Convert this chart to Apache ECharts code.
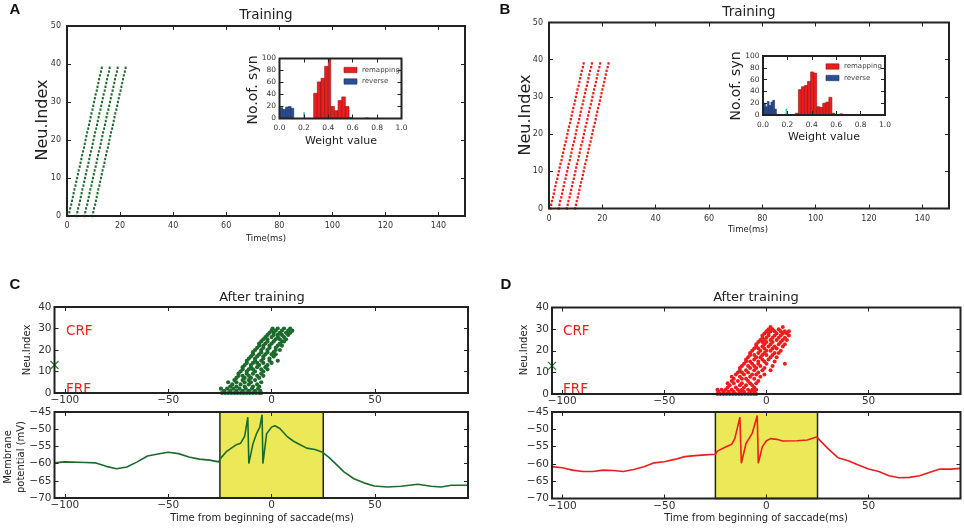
<!DOCTYPE html>
<html>
<head>
<meta charset="utf-8">
<script src="https://cdn.jsdelivr.net/npm/echarts@6/dist/echarts.min.js"></script>
<style>
  html, body { margin: 0; padding: 0; background: #fff; }
  #chart { width: 964px; height: 528px; }
</style>
</head>
<body>
<div id="chart"></div>
<script>
// ---- data ----

// training raster (A, B): four volleys, neuron k fires delay[k] after volley onset
const neuronIdx = [0,1,2,3,4,5,6,7,8,9,10,11,12,13,14,15,16,17,18,19,20,21,22,23,24,25,26,27,28,29,30,31,32,33,34,35,36,37,38,39];
const neuronDelay = [0,0.3,0.6,1,1.3,1.6,1.9,2.2,2.6,2.9,3.2,3.5,3.8,4.2,4.5,4.8,5.1,5.4,5.8,6.1,6.4,6.7,7,7.4,7.7,8,8.3,8.6,9,9.3,9.6,9.9,10.2,10.6,10.9,11.2,11.5,11.8,12.2,12.5];
const volleyOnsetA = [0.6, 3.6, 6.6, 9.6];
const volleyOnsetB = [0.5, 3.6, 6.7, 9.8];

// weight histograms (insets): bin left edge, bin right edge, count
const reverseA   = [[0.005,0.027,18],[0.027,0.05,15],[0.05,0.072,19],[0.072,0.095,20],[0.095,0.117,17]];
const remapA     = [[0.28,0.31,42],[0.31,0.34,61],[0.34,0.37,67],[0.37,0.40,87],[0.40,0.42,100],[0.42,0.45,20],[0.45,0.48,13],[0.48,0.51,30],[0.51,0.54,36],[0.54,0.57,20],[0.57,0.60,1.5],[0.70,0.73,1]];
const otherA     = [[0.198,0.206,10]];
const reverseB   = [[0.005,0.02,20],[0.02,0.035,14],[0.035,0.05,23],[0.05,0.065,16],[0.065,0.08,22],[0.08,0.095,25],[0.095,0.11,10]];
const remapB     = [[0.265,0.29,3],[0.29,0.315,43],[0.315,0.34,48],[0.34,0.365,50],[0.365,0.39,57],[0.39,0.415,73],[0.415,0.44,71],[0.44,0.465,14],[0.465,0.49,13],[0.49,0.515,20],[0.515,0.54,22],[0.54,0.565,30],[0.565,0.59,3],[0.63,0.655,2]];
const otherB     = [[0.188,0.196,10]];

// after training raster (C, D): spike times (ms) per neuron index (row)
const spikeRowsC = [
  [-24,-22.5,-21,-19.5,-18,-16.5,-15,-13.5,-12,-10.5,-9,-7.5,-6,-5],
  [-23,-20,-17,-14,-11,-8,-5.5],
  [-24.5,-21.5,-18.5,-15.5,-12.5,-9.5,-6.5],
  [-20,-17,-13,-9,-6],
  [-19,-15,-11,-7],
  [-21,-17,-13,-10,-5],
  [-18,-14,-11,-8],
  [-17,-13,-10,-6],
  [-16,-14,-11,-7,-4],
  [-16,-12,-9,-5],
  [-15,-12,-8,-4],
  [-14,-11,-9,-5,-2],
  [-14,-10,-7,-3],
  [-13,-10,-6,-2],
  [-12,-9,-7,-4,0],
  [-12,-8,-5,-1,3],
  [-11,-8,-4,-1],
  [-10,-7,-4,1],
  [-9,-6,-3,0,2],
  [-9,-5,-2,1],
  [-8,-5,-2,2,4],
  [-7,-4,-1,2],
  [-6,-4,-1,3,5],
  [-6,-3,0,4],
  [-5,-2,1,5,6],
  [-4,-2,2,4,7],
  [-3,0,3,6],
  [-2,1,3,5,8],
  [-1,1,4,7,9],
  [0,2,5,8,10],
  [0.5,3,6,9]
];
const spikeRowsD = [
  [-24,-22.5,-21,-19.5,-18,-16.5,-15,-13.5,-12,-10.5,-9,-7.5,-6,-5],
  [-23.5,-21,-18.5,-16,-13,-11,-8,-6],
  [-24,-22,-20,-17,-14,-12,-9,-7,-5],
  [-19,-15,-11,-6],
  [-18,-13,-10,-7],
  [-19,-16,-12,-8,-5],
  [-17,-14,-9,-4],
  [-16,-12,-10,-6],
  [-17,-13,-8,-3],
  [-15,-11,-7,-5,-1],
  [-14,-12,-9,-4],
  [-13,-10,-6,-2,2],
  [-13,-8,-5,-1],
  [-12,-9,-6,-3,3],
  [-11,-7,-4,0,9],
  [-10,-8,-4,-1,4],
  [-10,-6,-2,1],
  [-9,-5,-3,2,5],
  [-8,-6,-2,0,3],
  [-8,-4,-1,4,6],
  [-7,-3,0,2,7],
  [-6,-4,-1,3,5],
  [-5,-2,1,4,8],
  [-5,-1,2,6,9],
  [-4,-2,0,3,7],
  [-3,-1,2,5,8,10],
  [-2,0,3,6,9],
  [-2,1,4,7,11],
  [-1,1,5,8,10],
  [0,2,4,7,9,11],
  [1,3,6],
  [2,8]
];
const probeC = [[-105, 13]];
const probeD = [[-105, 13]];

// membrane potential traces
const memTimeC = [-105,-100,-90,-85,-80,-75,-70,-65,-60,-55,-50,-45,-40,-35,-30,-25.5,-25,-22,-20,-17,-15,-13,-11.5,-11,-9,-7.3,-5.7,-4.6,-4.2,-2.4,0,1.6,4,7.3,10.6,13.8,17,21,24.4,27.6,30.9,35,39.8,44.7,49.6,56,62.6,70.7,77.2,82,87,95];
const memVoltC = [-59.8,-59.5,-59.7,-59.8,-60.8,-61.5,-61,-59.5,-57.8,-57.2,-56.7,-57.1,-58.1,-58.7,-59,-59.5,-58.7,-56.6,-55.7,-54.5,-54.1,-52,-46.5,-60,-54.2,-51.3,-49.4,-45.8,-60,-51.3,-49.4,-49,-49.8,-52,-53.5,-54.5,-55.5,-55.9,-56.6,-58.1,-60,-62.4,-64.4,-65.6,-66.5,-66.8,-66.6,-66,-66.6,-66.8,-66.3,-66.3];
const memTimeD = [-105,-100,-95,-90,-85,-80,-75,-70,-65,-60,-55,-50,-45,-40,-35,-30,-25,-24,-20,-17,-15.5,-13,-12.3,-10,-7,-4.5,-4,-2,0,2,5,8,15,20,24.5,30,35,40,45,50,55,60,65,70,75,80,85,90,95];
const memVoltD = [-60.8,-61.1,-61.8,-62.2,-62.2,-61.8,-61.9,-62.2,-61.6,-60.8,-59.7,-59.4,-58.7,-57.9,-57.6,-57.4,-57.2,-56.3,-55.1,-54.3,-52.7,-46.5,-59.8,-54.1,-51.2,-46,-59.8,-55,-53.3,-52.7,-52.9,-53.4,-53.3,-53.1,-52.2,-55.5,-58.2,-59.1,-60.3,-61.5,-62.2,-63.4,-64,-63.9,-63.4,-62.4,-61.5,-61.5,-61.3];

// tick labels
const ticksTrainX = [0,20,40,60,80,100,120,140];
const ticksTrainY = [0,10,20,30,40,50];
const ticksWeightX = [0,0.2,0.4,0.6,0.8,1.0];
const ticksWeightY = [0,20,40,60,80,100];
const ticksSacX = [-100,-50,0,50];
const ticksSacY = [0,10,20,30,40];
const ticksMemY = [-70,-65,-60,-55,-50,-45];

// ---- helpers ----
const FONT = 'DejaVu Sans';
const INK = '#222';
const GREEN = '#1d6b2c';
const RED = '#ee1d1d';
const BLUE = '#2b4f95';
const CYAN = '#22c4c4';
const minus = v => String(v).replace('-', '\u2212');

const grid = [
  { left: 67, top: 26, width: 398, height: 190 },       // A main
  { left: 279.5, top: 58.5, width: 122, height: 60 },   // A inset
  { left: 549, top: 22.5, width: 400, height: 186 },    // B main
  { left: 763, top: 56, width: 122, height: 59 },       // B inset
  { left: 54.5, top: 307, width: 413.5, height: 86 },   // C raster
  { left: 54.5, top: 412, width: 413.5, height: 86 },   // C membrane
  { left: 552, top: 307.5, width: 408.5, height: 86.5 },// D raster
  { left: 552, top: 412, width: 408.5, height: 86.5 }   // D membrane
].map(g => Object.assign(g, { show: true, borderColor: INK, borderWidth: 2, z: 10 }));

const xAxis = [];
const yAxis = [];
function axesFor(gi, xr, yr, xt, yt, fs, fmtX, fmtY, mX, mY) {
  const tick = { inside: true, length: 4, lineStyle: { color: INK, width: 1 } };
  const lab = { fontFamily: FONT, fontSize: fs, color: '#333' };
  ['bottom', 'top'].forEach((pos, k) => xAxis.push({
    gridIndex: gi, type: 'value', position: pos, min: xr[0], max: xr[1], z: 12,
    axisLine: { show: false, onZero: false }, splitLine: { show: false },
    axisTick: Object.assign({ customValues: xt }, tick),
    axisLabel: Object.assign({ show: k === 0, customValues: xt, formatter: fmtX, margin: mX }, lab)
  }));
  ['left', 'right'].forEach((pos, k) => yAxis.push({
    gridIndex: gi, type: 'value', position: pos, min: yr[0], max: yr[1], z: 12,
    axisLine: { show: false, onZero: false }, splitLine: { show: false },
    axisTick: Object.assign({ customValues: yt }, tick),
    axisLabel: Object.assign({ show: k === 0, customValues: yt, formatter: fmtY, margin: mY }, lab)
  }));
}
axesFor(0, [0, 150], [0, 50], ticksTrainX, ticksTrainY, 8, v => v, v => v, 6, 6);
axesFor(1, [0, 1], [0, 100], ticksWeightX, ticksWeightY, 7.5, v => v.toFixed(1), v => v, 6, 3.5);
axesFor(2, [0, 150], [0, 50], ticksTrainX, ticksTrainY, 8, v => v, v => v, 6, 6);
axesFor(3, [0, 1], [0, 100], ticksWeightX, ticksWeightY, 7.5, v => v.toFixed(1), v => v, 6, 3.5);
axesFor(4, [-105, 95], [0, 40], ticksSacX, ticksSacY, 10.5, minus, minus, 2, 3);
axesFor(5, [-105, 95], [-70, -45], ticksSacX, ticksMemY, 10.5, minus, minus, 2, 3);
axesFor(6, [-105, 95], [0, 40], ticksSacX, ticksSacY, 10.5, minus, minus, 2, 3);
axesFor(7, [-105, 95], [-70, -45], ticksSacX, ticksMemY, 10.5, minus, minus, 2, 3);

function volleys(onsets) {
  const pts = [];
  onsets.forEach(o => neuronIdx.forEach((n, k) => pts.push([o + neuronDelay[k], n])));
  return pts;
}
function rows(r) {
  const pts = [];
  r.forEach((times, n) => times.forEach(t => pts.push([t, n])));
  return pts;
}
function hist(gi, name, data, fill, edge) {
  return {
    type: 'custom', name: name, xAxisIndex: gi * 2, yAxisIndex: gi * 2, data: data, z: 3,
    itemStyle: { color: fill },
    renderItem: (params, api) => {
      const a = api.coord([api.value(0), 0]);
      const b = api.coord([api.value(1), api.value(2)]);
      return { type: 'rect', shape: { x: a[0], y: b[1], width: b[0] - a[0], height: a[1] - b[1] },
               style: { fill: fill, stroke: edge, lineWidth: 0.6 } };
    }
  };
}
function membrane(gi, t, v, color) {
  return {
    type: 'line', xAxisIndex: gi * 2, yAxisIndex: gi * 2, data: t.map((x, k) => [x, v[k]]),
    symbol: 'none', lineStyle: { color: color, width: 1.6 }, z: 4,
    markArea: { silent: true, itemStyle: { color: '#ebe957', borderColor: INK, borderWidth: 1.5 },
                data: [[{ xAxis: -25 }, { xAxis: 25 }]] }
  };
}
const probeMark = gi => ({
  type: 'scatter', xAxisIndex: gi * 2, yAxisIndex: gi * 2, data: gi === 4 ? probeC : probeD, clip: false, z: 6,
  symbol: 'path://M0,0L10,10M10,0L0,10', symbolSize: 8,
  itemStyle: { color: 'rgba(0,0,0,0)', borderColor: '#2a7a34', borderWidth: 1.3, opacity: 1 }
});

const series = [
  { type: 'scatter', xAxisIndex: 0, yAxisIndex: 0, data: volleys(volleyOnsetA), symbol: 'rect', symbolSize: [2, 2.4], itemStyle: { color: GREEN, opacity: 1 } },
  hist(1, 'reverse', reverseA, BLUE, '#1a2f5e'),
  hist(1, 'remapping', remapA, RED, '#8a1515'),
  hist(1, 'other', otherA, CYAN, CYAN),
  { type: 'scatter', xAxisIndex: 4, yAxisIndex: 4, data: volleys(volleyOnsetB), symbol: 'rect', symbolSize: [2.2, 2.4], itemStyle: { color: RED, opacity: 1 } },
  hist(3, 'reverse', reverseB, BLUE, '#1a2f5e'),
  hist(3, 'remapping', remapB, RED, '#8a1515'),
  hist(3, 'other', otherB, CYAN, CYAN),
  { type: 'scatter', xAxisIndex: 8, yAxisIndex: 8, data: rows(spikeRowsC), symbolSize: 4.2, itemStyle: { color: GREEN, opacity: 1 }, z: 3 },
  probeMark(4),
  membrane(5, memTimeC, memVoltC, GREEN),
  { type: 'scatter', xAxisIndex: 12, yAxisIndex: 12, data: rows(spikeRowsD), symbolSize: 4, itemStyle: { color: RED, opacity: 1 }, z: 3 },
  probeMark(6),
  membrane(7, memTimeD, memVoltD, RED)
];

function txt(x, y, s, size, opt) {
  return Object.assign({ type: 'text', x: x, y: y, z: 1,
    style: Object.assign({ text: s, font: size + 'px "' + FONT + '"', fill: '#222', textAlign: 'center', textVerticalAlign: 'middle' }, (opt && opt.style) || {}) },
    opt ? { rotation: opt.rotation || 0 } : {});
}
const vert = { rotation: Math.PI / 2 };
function legendPatch(x, y, fill, edge, label) {
  return [
    { type: 'rect', shape: { x: x, y: y - 2.7, width: 13, height: 5.4 }, style: { fill: fill, stroke: edge, lineWidth: 0.6 }, z: 20 },
    { type: 'text', x: x + 18, y: y, z: 20, style: { text: label, font: '7px "' + FONT + '"', fill: '#444', textAlign: 'left', textVerticalAlign: 'middle' } }
  ];
}
const letter = (x, y, s) => ({ type: 'text', x: x, y: y, style: { text: s, font: 'bold 15px "Liberation Sans"', fill: '#111', textAlign: 'center', textVerticalAlign: 'middle' } });

const graphic = [
  letter(15, 10, 'A'), letter(505, 10, 'B'), letter(15, 285, 'C'), letter(506, 285, 'D'),
  // A
  txt(266, 15, 'Training', 13.5), txt(43, 120, 'Neu.Index', 16, vert), txt(266, 239, 'Time(ms)', 8.5),
  txt(253, 90, 'No.of. syn', 14, vert), txt(341, 141, 'Weight value', 11),
  ...legendPatch(344, 70, RED, '#8a1515', 'remapping'),
  ...legendPatch(344, 81.5, BLUE, '#1a2f5e', 'reverse'),
  // B
  txt(749, 12, 'Training', 13.5), txt(526, 115, 'Neu.Index', 16, vert), txt(748, 230, 'Time(ms)', 8.5),
  txt(736, 86, 'No.of. syn', 14, vert), txt(824, 137, 'Weight value', 11),
  ...legendPatch(826, 66.5, RED, '#8a1515', 'remapping'),
  ...legendPatch(826, 78, BLUE, '#1a2f5e', 'reverse'),
  // C
  txt(262, 298, 'After training', 13), txt(27, 350, 'Neu.Index', 10, vert),
  txt(8, 457, 'Membrane', 10, vert), txt(21, 457, 'potential (mV)', 10, vert),
  txt(262, 518, 'Time from beginning of saccade(ms)', 10),
  txt(66, 331, 'CRF', 13.5, { style: { fill: RED, textAlign: 'left' } }),
  txt(66, 389, 'FRF', 13.5, { style: { fill: RED, textAlign: 'left' } }),
  { type: 'rect', shape: { x: 60, y: 394.5, width: 40, height: 8 }, style: { fill: '#fff' }, z: 2 },
  // D
  txt(756, 298, 'After training', 13), txt(524, 350, 'Neu.Index', 10, vert),
  txt(756, 518, 'Time from beginning of saccade(ms)', 10),
  txt(563, 331.5, 'CRF', 13.5, { style: { fill: RED, textAlign: 'left' } }),
  txt(563, 389, 'FRF', 13.5, { style: { fill: RED, textAlign: 'left' } }),
  { type: 'rect', shape: { x: 557, y: 395, width: 40, height: 8 }, style: { fill: '#fff' }, z: 2 }
];

const chart = echarts.init(document.getElementById('chart'));
chart.setOption({
  animation: false,
  backgroundColor: '#fff',
  grid: grid,
  xAxis: xAxis,
  yAxis: yAxis,
  series: series,
  graphic: graphic
});
</script>
</body>
</html>
